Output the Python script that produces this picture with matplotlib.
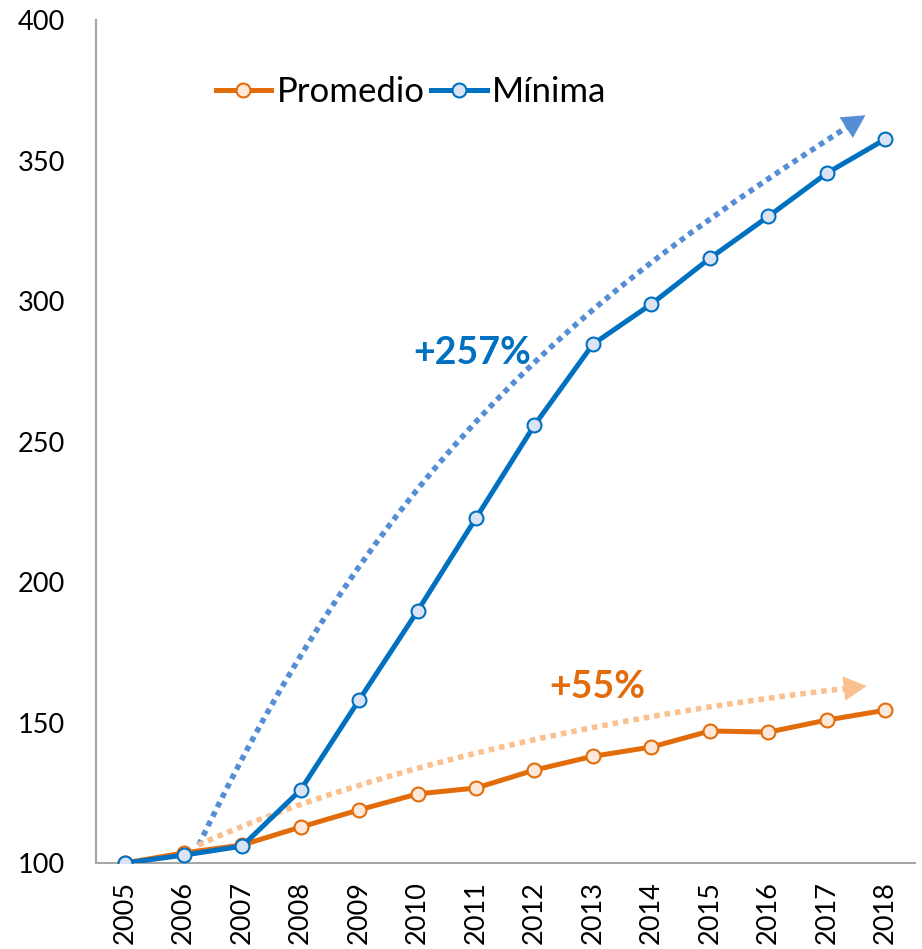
import numpy as np
import matplotlib.pyplot as plt
from matplotlib.path import Path
from matplotlib.patches import FancyArrowPatch, PathPatch

years = [str(y) for y in range(2005, 2019)]
promedio = [100, 103.6, 106.4, 112.8, 118.9, 124.6, 126.7, 133.1, 138.0, 141.3, 147.0, 146.6, 150.9, 154.4]
minima = [100, 102.8, 106.0, 126.0, 158.0, 189.7, 222.8, 255.9, 284.7, 299.0, 315.3, 330.2, 345.6, 357.7]

# trend arrows as cubic bezier control points (year index, value)
trend_min = [(1.26, 106.4), (4.68, 255.9), (8.40, 309.3), (12.66, 366.2)]
trend_prom = [(1.25, 106.4), (4.66, 138.4), (9.27, 155.2), (12.68, 163.0)]

BLUE = "#0070C0"
ORANGE = "#E36C0A"

plt.rcParams['font.family'] = ['Lato', 'DejaVu Sans']


def bezier_head(pts, t):
    # first part of a cubic bezier, cut at t (de Casteljau)
    p = np.asarray(pts, dtype=float)
    a = p[:-1] + t * (p[1:] - p[:-1])
    b = a[:-1] + t * (a[1:] - a[:-1])
    c = b[0] + t * (b[1] - b[0])
    return [p[0], a[0], b[0], c]


fig = plt.figure(figsize=(9.22, 9.49), dpi=100)
ax = fig.add_axes([0.104, 0.0906, 0.888, 0.888])

x = np.arange(len(years))

ax.plot(x, promedio, color=ORANGE, lw=3.6, marker='o', ms=10,
        mfc="#FDE9D9", mec=ORANGE, mew=1.5, label="Promedio", zorder=4)
ax.plot(x, minima, color=BLUE, lw=3.6, marker='o', ms=10,
        mfc="#DAE3F3", mec=BLUE, mew=1.5, label="Mínima", zorder=5)

codes = [Path.MOVETO, Path.CURVE4, Path.CURVE4, Path.CURVE4]
for pts, col, cut in [(trend_min, "#558ED5", 0.975), (trend_prom, "#FBC08F", 0.965)]:
    path = Path(pts, codes)
    body = Path(bezier_head(pts, cut), codes)
    # dotted body, then a solid head at the end of the full path
    ax.add_patch(PathPatch(body, fill=False, edgecolor=col, lw=4.0,
                           linestyle=(0, (1, 0.9)), capstyle='butt', zorder=3))
    ax.add_patch(FancyArrowPatch(path=path,
                                 arrowstyle="-|>,head_length=0.75,head_width=0.4",
                                 mutation_scale=22, color=col, lw=0, zorder=3))

ax.text(5.94, 281.5, "+257%", color=BLUE, fontsize=27, fontweight='bold',
        ha='center', va='center')
ax.text(8.07, 162.5, "+55%", color=ORANGE, fontsize=27, fontweight='bold',
        ha='center', va='center')

ax.set_xlim(-0.5, 13.5)
ax.set_ylim(100, 400)
ax.set_yticks([100, 150, 200, 250, 300, 350, 400])
ax.set_xticks(x)
ax.set_xticklabels(years, rotation=90)
ax.tick_params(axis='both', length=0, labelsize=19.5)
ax.tick_params(axis='y', pad=22)
ax.tick_params(axis='x', pad=13)

for side in ['top', 'right']:
    ax.spines[side].set_visible(False)
for side in ['left', 'bottom']:
    ax.spines[side].set_color("#A6A6A6")
    ax.spines[side].set_linewidth(1.5)

ax.legend(loc='center', bbox_to_anchor=(0.385, 0.915), ncol=2, frameon=False,
          fontsize=25, handlelength=1.6, handletextpad=0.15, columnspacing=0.2)

fig.savefig("out.png", dpi=100)
